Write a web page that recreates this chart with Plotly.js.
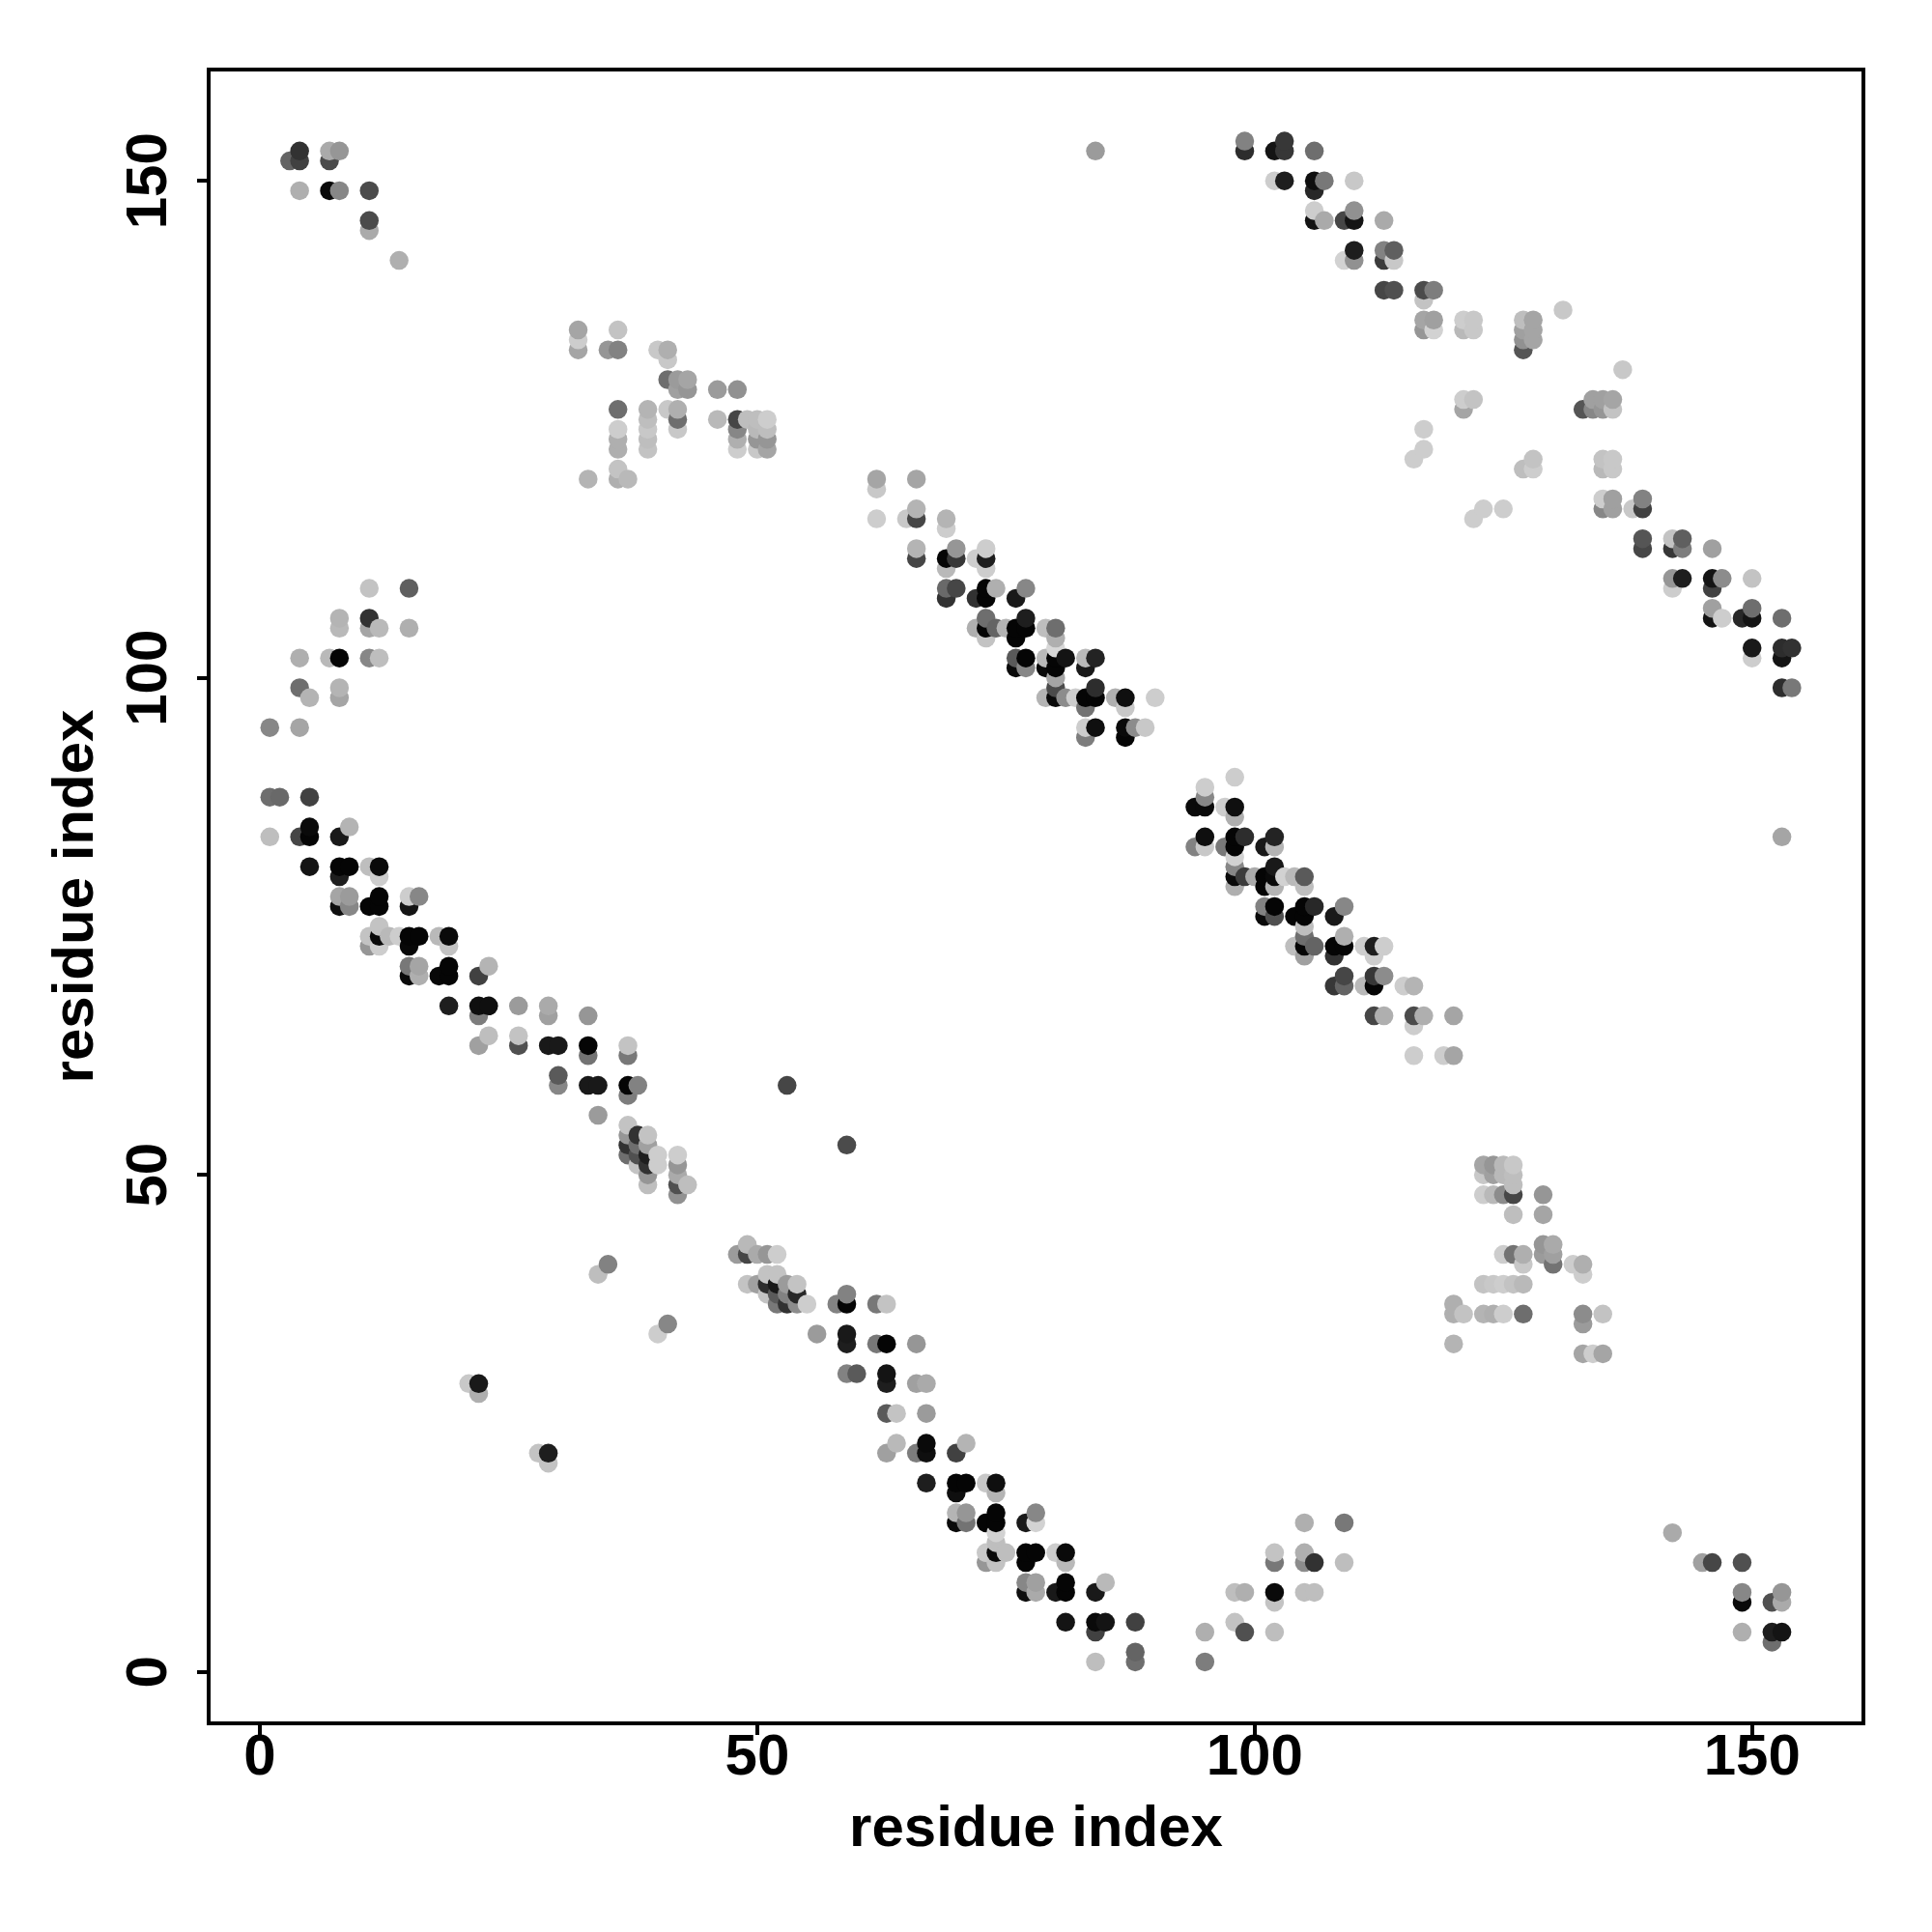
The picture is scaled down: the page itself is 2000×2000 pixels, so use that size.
<!DOCTYPE html>
<html>
<head>
<meta charset="utf-8">
<script src="https://cdn.plot.ly/plotly-3.0.1.min.js"></script>
<style>html,body{margin:0;padding:0;background:#fff}</style>
</head>
<body>
<div id="chart" style="width:2000px;height:2000px"></div>
<script>
// Each list holds triples: residue i, residue j, grey level (0 black .. 255 white)
const topLeft = [3,152,100, 4,153,50, 4,152,65, 7,153,170, 7,152,75, 8,153,150, 4,149,175, 7,149,10, 8,149,135, 11,149,75, 11,146,75, 11,145,170, 14,142,175];
const upperBlockA = [32,135,165, 32,134,205, 32,133,165, 36,135,195, 35,133,150, 36,133,130, 40,133,200, 41,133,175, 41,132,200, 41,130,110, 42,130,155, 42,129,160, 43,130,165, 43,129,150, 46,129,155, 48,129,145, 36,127,110, 36,125,205, 36,124,175, 36,123,175, 39,127,180, 39,126,190, 39,125,200, 39,124,190, 39,123,195, 41,127,200, 42,127,175, 42,126,110, 42,125,200, 46,126,185, 48,126,70, 48,125,135, 48,124,175, 48,123,205, 49,126,190, 50,126,190, 50,125,185, 50,124,150, 50,123,200, 51,126,205, 51,125,190, 51,124,150, 51,123,165, 33,120,180, 36,121,195, 36,120,175, 37,120,185];
const leftBlock = [11,109,195, 15,109,95, 8,106,180, 8,105,185, 11,106,50, 11,105,165, 12,105,185, 15,105,175, 4,102,175, 7,102,185, 8,102,5, 11,102,135, 12,102,190, 4,99,110, 5,98,180, 8,99,180, 8,98,165, 1,95,135, 4,95,165];
const diagonalA1 = [1,88,110, 2,88,105, 5,88,65, 1,84,190, 4,84,70, 5,85,10, 5,84,5, 8,84,25, 9,85,180, 5,81,20, 8,81,5, 9,81,5, 8,80,30, 11,81,190, 12,81,10, 12,80,205, 8,78,165, 9,78,155, 8,77,15, 9,77,135, 11,77,5, 12,78,5, 12,77,5, 15,78,205, 16,78,135, 15,77,20, 11,74,195, 11,73,150, 12,75,195, 12,74,10, 12,73,205, 13,74,185, 14,74,205, 15,74,5, 16,74,5, 15,73,8, 18,74,185, 19,74,10, 19,73,195, 15,71,120, 16,71,165, 15,70,10, 16,70,175, 18,70,8, 19,71,5, 19,70,5, 22,70,65, 23,71,180];
const diagonalA2 = [19,67,30, 22,67,15, 23,67,15, 22,66,125, 26,67,155, 29,67,170, 29,66,160, 22,63,160, 23,64,190, 26,64,195, 26,63,80, 29,63,25, 30,63,25, 33,66,150, 33,63,5, 33,62,115, 37,63,195, 37,62,120, 30,60,90, 30,59,135, 33,59,25, 34,59,25, 37,59,5, 37,58,125, 38,59,130, 34,56,155, 37,55,195, 37,54,150, 37,53,50, 37,52,110, 38,54,50, 38,53,110, 38,52,80, 38,51,195, 39,54,195, 39,53,160, 39,52,30, 39,51,50, 39,50,150, 39,49,190, 40,52,205, 40,51,205, 42,52,205, 42,51,150, 42,50,170, 42,49,80, 42,48,145, 43,49,190];
const scattered = [84,153,155, 53,59,70, 59,53,75, 35,41,130, 34,40,190, 41,35,135, 40,34,205, 22,29,25, 21,29,200, 22,28,175, 29,22,30, 28,22,195, 29,21,195, 153,84,165];
const diagonalB1 = [48,42,155, 49,43,185, 49,42,70, 50,42,170, 51,42,150, 52,42,205, 49,39,195, 50,39,160, 51,40,195, 51,39,45, 51,38,195, 52,40,195, 52,39,25, 52,38,90, 52,37,120, 53,39,155, 53,38,130, 53,37,50, 54,39,195, 54,38,40, 54,37,140, 55,37,205, 58,37,130, 59,38,130, 59,37,5, 62,37,120, 63,37,195, 56,34,155, 59,34,25, 59,33,30, 62,33,120, 63,33,5, 66,33,150, 59,30,130, 60,30,90, 63,30,20, 63,29,30, 66,29,160, 67,29,170, 63,26,90, 64,26,195, 67,26,155, 64,23,185, 63,22,160, 66,22,125, 67,23,10, 67,22,15, 70,22,65, 71,23,180];
const diagonalB2 = [67,19,30, 70,19,5, 71,19,5, 70,18,15, 73,19,200, 74,19,15, 74,18,180, 70,16,180, 71,16,150, 70,15,10, 71,15,115, 73,15,5, 74,16,5, 74,15,5, 77,15,25, 78,16,135, 78,15,210, 74,14,210, 74,13,190, 73,12,200, 73,11,150, 74,12,10, 74,11,195, 75,12,190, 77,12,5, 78,12,5, 77,11,5, 80,12,205, 81,12,10, 81,11,185, 77,9,135, 78,9,160, 77,8,15, 78,8,170, 80,8,25, 81,9,5, 81,8,5, 84,8,25, 85,9,185, 81,5,20, 84,5,10, 85,5,20, 84,4,65, 88,5,65, 84,1,190, 88,2,100, 88,1,110];
const diagonalC = [62,120,165, 62,119,200, 62,116,205, 66,120,165, 65,116,200, 66,117,180, 66,116,70, 69,116,180, 69,115,205, 66,113,180, 66,112,70, 69,112,5, 69,111,185, 70,113,150, 70,112,55, 72,112,205, 73,113,205, 73,112,30, 73,111,205, 69,109,105, 69,108,50, 70,109,70, 72,108,50, 73,109,5, 73,108,5, 74,109,175, 76,108,25, 77,109,135, 72,105,175, 73,106,110, 73,105,5, 73,104,195, 74,105,100, 75,105,180, 76,105,5, 76,104,5, 77,106,30, 77,105,5, 79,105,190, 80,105,110, 80,104,175, 80,103,215, 76,102,90, 76,101,10, 77,102,5, 77,101,135, 79,102,185, 79,101,10, 80,102,5, 80,101,5, 81,102,20, 83,102,185, 83,101,25, 84,102,35, 80,100,165, 79,98,180, 80,99,75, 80,98,10, 81,98,140, 82,98,205, 83,98,5, 83,97,115, 84,99,45, 84,98,5, 86,98,175, 87,98,15, 87,97,200, 90,98,205, 83,95,205, 83,94,125, 84,95,15, 87,95,10, 87,94,5, 88,95,140, 89,95,200];
const diagonalD = [98,90,205, 95,89,205, 95,88,135, 94,87,10, 95,87,10, 97,87,205, 98,87,15, 98,86,175, 95,84,15, 95,83,200, 94,83,130, 97,83,120, 98,84,5, 98,83,5, 99,84,45, 101,83,25, 102,84,35, 102,83,180, 98,82,210, 98,81,135, 98,80,10, 98,79,175, 99,80,60, 100,80,170, 101,80,5, 101,79,5, 102,81,25, 102,80,10, 102,79,180, 103,80,210, 104,80,185, 105,80,90, 105,79,190, 101,77,130, 101,76,10, 102,77,5, 102,76,80, 104,76,5, 105,77,5, 105,76,5, 106,77,40, 108,76,25, 109,77,135, 105,75,190, 105,74,110, 104,73,190, 105,73,5, 105,72,160, 106,73,100, 108,73,5, 108,72,50, 109,74,175, 109,73,5, 111,73,205, 112,73,30, 112,72,205, 113,73,205, 108,69,55, 109,70,70, 109,69,100, 111,69,185, 112,70,55, 112,69,5, 113,70,140, 115,69,205, 116,69,180, 112,66,70, 113,66,175, 116,66,75, 116,65,205, 117,66,175, 120,66,165, 116,62,205, 119,62,205, 120,62,165];
const upperRight1 = [99,154,130, 99,153,45, 102,153,20, 103,154,55, 103,153,55, 106,153,110, 102,150,205, 103,150,30, 106,150,15, 106,149,40, 107,150,120, 110,150,200, 106,147,205, 106,146,20, 107,146,170, 109,146,70, 110,147,145, 110,146,20, 113,146,170, 109,142,210, 110,143,30, 110,142,145, 113,143,130, 113,142,60, 114,143,95, 114,142,200, 113,139,70, 114,139,80, 117,139,75, 118,139,125, 117,138,195, 117,136,165, 118,136,160, 117,135,150, 118,135,210, 121,136,205, 122,136,200, 121,135,185, 122,135,200, 127,136,190, 128,136,165, 127,135,160, 127,134,145, 127,133,85, 128,135,165, 128,134,165, 131,137,200, 121,128,205, 122,128,195, 121,127,165, 117,125,205, 117,123,205, 116,122,205, 122,116,205, 123,117,205, 125,117,205, 127,121,190, 128,122,195, 128,121,205];
const upperRight2 = [137,131,200, 133,127,85, 134,128,160, 134,127,135, 135,128,160, 135,127,150, 136,128,165, 136,127,195, 135,122,195, 135,121,185, 136,122,200, 136,121,200, 135,118,205, 135,117,135, 136,118,160, 136,117,160, 138,117,200, 139,118,130, 139,117,65, 139,114,85, 139,113,70, 142,114,195, 142,113,55, 143,114,95, 143,113,125, 146,113,160, 142,110,150, 142,109,205, 143,110,30, 146,110,20, 146,109,65, 147,110,140, 150,110,195, 146,107,160, 146,106,20, 147,106,205, 149,106,40, 150,107,110, 150,106,20, 153,106,110, 150,103,25, 150,102,205, 153,103,45, 153,102,20, 154,103,50, 153,99,45, 154,99,120];
const lowerBlock = [120,37,175, 120,36,175, 121,36,195, 120,33,180, 123,51,165, 123,50,200, 123,48,205, 124,51,150, 124,50,160, 124,48,185, 125,51,185, 125,50,185, 125,48,140, 126,51,200, 126,50,190, 126,49,190, 126,48,70, 126,46,190, 129,48,150, 129,46,165, 125,42,205, 126,42,115, 127,42,175, 127,41,200, 129,43,150, 129,42,155, 130,43,170, 130,42,160, 130,41,115, 132,41,205, 133,41,175, 133,40,205, 123,39,195, 124,39,200, 125,39,205, 126,39,195, 127,39,185, 123,36,180, 124,36,175, 125,36,205, 127,36,110, 133,36,140, 133,35,155, 135,36,195, 133,32,165, 134,32,205, 135,32,165];
const bottomMiddle = [95,4,175, 99,4,80, 95,1,125, 98,5,195, 98,8,190, 99,8,175, 102,8,10, 102,7,195, 102,4,190, 102,12,195, 102,11,120, 105,15,175, 105,12,175, 105,11,140, 106,11,50, 105,8,190, 106,8,190, 109,15,120, 109,11,190];
const bottomRight = [142,14,170, 145,11,160, 146,11,70, 149,11,80, 149,8,135, 149,7,10, 149,4,175, 152,7,80, 153,8,150, 153,7,170, 152,4,30, 153,4,20, 152,3,110];

const axisTicks = [0, 50, 100, 150];
const tickLabels = ['0', '50', '100', '150'];
const axisLabel = 'residue index';

const lists = [topLeft, upperBlockA, leftBlock, diagonalA1, diagonalA2, scattered, diagonalB1, diagonalB2,
               diagonalC, diagonalD, upperRight1, upperRight2, lowerBlock, bottomMiddle, bottomRight];
const contacts = [];
lists.forEach(function (list) {
  for (let k = 0; k < list.length; k += 3) contacts.push([list[k], list[k + 1], list[k + 2]]);
});
// Later residues are painted over earlier ones, as in the reference
contacts.sort(function (a, b) { return a[0] - b[0] || a[1] - b[1]; });

const font = 'Liberation Sans, Arial, sans-serif';
function axis(range, angle, labelOff, labelAlong, titleGap) {
  return {
    range: range, autorange: false, tickmode: 'array', tickvals: axisTicks, ticktext: tickLabels,
    tickangle: angle, ticks: 'outside', ticklen: 10, tickwidth: 4, tickcolor: '#000',
    ticklabelstandoff: labelOff, ticklabelshift: labelAlong,
    showline: true, linecolor: '#000', linewidth: 4, mirror: true,
    showgrid: false, zeroline: false, automargin: false,
    tickfont: {family: font, size: 60, color: '#000', weight: 700},
    title: {text: '<b>' + axisLabel + '</b>', font: {family: font, size: 60, color: '#000'}, standoff: titleGap}
  };
}

Plotly.newPlot('chart', [{
  type: 'scatter', mode: 'markers',
  x: contacts.map(c => c[0]), y: contacts.map(c => c[1]),
  marker: {
    size: 19.5, line: {width: 0},
    color: contacts.map(c => c[2]), cmin: 0, cmax: 255, showscale: false,
    colorscale: [[0, '#000000'], [1, '#ffffff']]
  },
  hoverinfo: 'x+y'
}], {
  width: 2000, height: 2000, showlegend: false,
  paper_bgcolor: '#fff', plot_bgcolor: '#fff',
  margin: {l: 218, r: 73, t: 74, b: 218, pad: 0},
  xaxis: axis([-4.95, 161.0], 0, -31, 0, 21),
  yaxis: axis([-4.98, 161.0], -90, 8, 9, 3)
}, {staticPlot: true, displayModeBar: false});
</script>
</body>
</html>
